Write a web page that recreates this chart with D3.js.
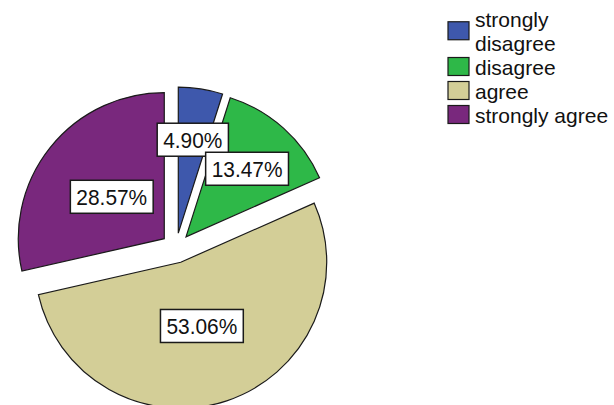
<!DOCTYPE html>
<html>
<head>
<meta charset="utf-8">
<script src="https://cdn.jsdelivr.net/npm/d3@7/dist/d3.min.js"></script>
<style>
  html, body { margin: 0; padding: 0; background: #fff; }
  svg { display: block; }
</style>
</head>
<body>
<svg id="chart" width="614" height="405"></svg>
<script>
// Responses, in clockwise order starting at 12 o'clock
const categories = ["strongly disagree", "disagree", "agree", "strongly agree"];
const percents = [4.90, 13.47, 53.06, 28.57];
const legendLines = [["strongly", "disagree"], ["disagree"], ["agree"], ["strongly agree"]];
const colors = ["#3e58ac", "#2eb848", "#d3ce97", "#79287d"];

const svg = d3.select("#chart");
const FONT = "'Liberation Sans', Arial, sans-serif";

// Pie geometry
const cx = 176, cy = 248, R = 146, explode = 15;

const pie = d3.pie().sort(null).value(d => d.value).startAngle(0).endAngle(2 * Math.PI);
const arcs = pie(categories.map((c, i) => ({ name: c, value: percents[i], color: colors[i] })));
const arc = d3.arc().innerRadius(0).outerRadius(R);

const total = d3.sum(percents);
const dir = a => [Math.sin(a), -Math.cos(a)];
const midAngle = d => (d.startAngle + d.endAngle) / 2;

const pieG = svg.append("g").attr("transform", `translate(${cx},${cy})`);

// Each slice is pulled out from the centre along its middle angle
pieG.append("g").selectAll("path")
  .data(arcs)
  .join("path")
  .attr("transform", d => {
    const [ux, uy] = dir(midAngle(d));
    return `translate(${ux * explode},${uy * explode})`;
  })
  .attr("d", arc)
  .attr("fill", d => d.data.color)
  .attr("stroke", "#1a1a1a")
  .attr("stroke-width", 1.2)
  .attr("stroke-linejoin", "miter");

// Percentage labels in white boxes, drawn above every slice.
// Narrow slices get their label further out, wide ones nearer the tip.
const fontSize = 22, squeeze = 0.95, boxH = 33, padX = 6;
const labelLayer = pieG.append("g");
arcs.forEach(d => {
  const frac = d.data.value / total;
  const r = explode + (frac < 0.2 ? R * (0.66 - 0.25 * frac) : 0.46 * R);
  const [ux, uy] = dir(midAngle(d));
  const label = d.data.value.toFixed(2) + "%";

  const lg = labelLayer.append("g").attr("transform", `translate(${ux * r},${uy * r})`);
  const rect = lg.append("rect")
    .attr("fill", "#fff")
    .attr("stroke", "#1a1a1a")
    .attr("stroke-width", 1.5);
  const t = lg.append("text")
    .attr("font-family", FONT)
    .attr("font-size", fontSize)
    .attr("fill", "#111")
    .attr("text-anchor", "middle")
    .attr("transform", `scale(${squeeze},1)`)
    .attr("y", 0.716 * fontSize / 2)
    .text(label);
  const tw = t.node().getComputedTextLength() * squeeze;
  rect.attr("x", -tw / 2 - padX).attr("y", -boxH / 2)
    .attr("width", tw + 2 * padX).attr("height", boxH);
});

// Legend: one text block per entry, wrapped lines as tspans
const legX = 448, textX = 475, legFont = 21, lineGap = 23.5, itemGap = 24;
const legend = svg.append("g");
let baseline = 27;
legendLines.forEach((lines, i) => {
  const first = baseline;
  const txt = legend.append("text")
    .attr("x", textX)
    .attr("y", baseline)
    .attr("font-family", FONT)
    .attr("font-size", legFont)
    .attr("fill", "#111");
  lines.forEach((ln, j) => {
    txt.append("tspan")
      .attr("x", textX)
      .attr("dy", j === 0 ? 0 : lineGap)
      .text(ln);
  });
  const last = baseline + (lines.length - 1) * lineGap;
  const mid = (first + last) / 2 - 8;
  legend.append("rect")
    .attr("x", legX)
    .attr("y", mid - 9)
    .attr("width", 21)
    .attr("height", 18)
    .attr("fill", colors[i])
    .attr("stroke", "#1a1a1a")
    .attr("stroke-width", 1.2);
  baseline = last + itemGap;
});
</script>
</body>
</html>
